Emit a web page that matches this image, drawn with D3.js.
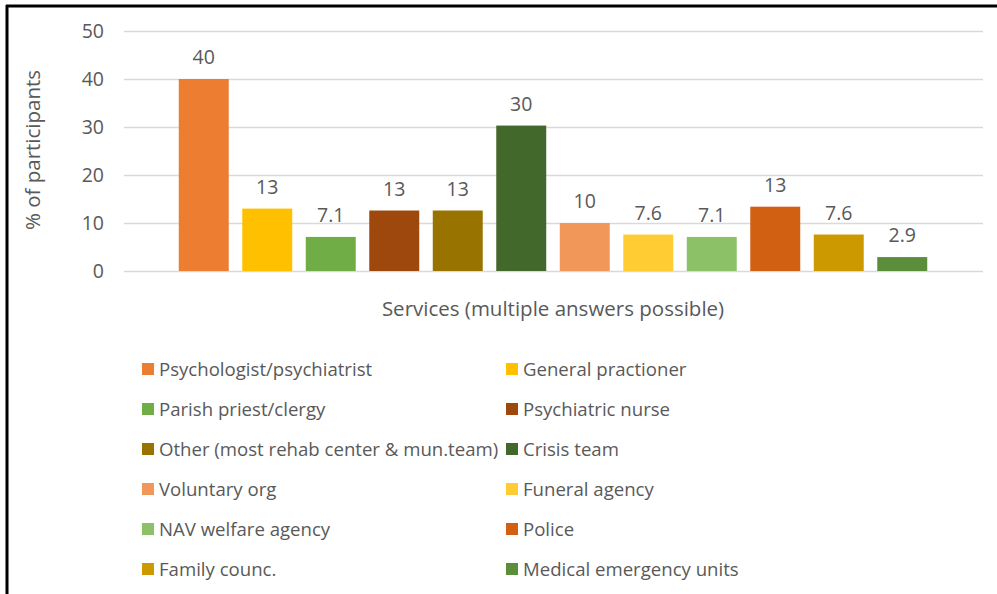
<!DOCTYPE html>
<html><head><meta charset="utf-8">
<script src="https://cdn.jsdelivr.net/npm/d3@7"></script>
<style>
html,body{margin:0;padding:0;background:#fff;}
svg{display:block;}
text{font-family:"Open Sans",sans-serif;fill:#595959;}
</style></head>
<body>
<svg id="chart" width="997" height="594"></svg>
<script>
const categories = ["Psychologist/psychiatrist","General practioner","Parish priest/clergy","Psychiatric nurse","Other (most rehab center & mun.team)","Crisis team","Voluntary org","Funeral agency","NAV welfare agency","Police","Family counc.","Medical emergency units"];
const values = [40, 13.0, 7.1, 12.6, 12.6, 30.3, 10.0, 7.6, 7.1, 13.4, 7.6, 2.9];
const colors = ["#ED7D31","#FFC000","#70AD47","#9E480E","#997300","#43682B","#F1975A","#FFCD33","#8CC168","#D26012","#CC9A00","#5B8E3A"];
const yTicks = [0,10,20,30,40,50];
const yTitle = "% of participants";
const xTitle = "Services (multiple answers possible)";

const svg = d3.select("#chart");
// frame
svg.append("line").attr("x1",6).attr("x2",997).attr("y1",6).attr("y2",6).attr("stroke","#000").attr("stroke-width",3);
svg.append("line").attr("x1",7).attr("x2",7).attr("y1",5).attr("y2",594).attr("stroke","#000").attr("stroke-width",3);

const y = d3.scaleLinear().domain([0,50]).range([271,31]);
const x = d3.scaleBand().domain(categories).range([172,934]).paddingInner(0.213).paddingOuter(0.1065);

const gridG = svg.append("g");
yTicks.forEach(t=>{
  gridG.append("line").attr("x1",124).attr("x2",983).attr("y1",Math.round(y(t))+0.5).attr("y2",Math.round(y(t))+0.5)
    .attr("stroke","#d9d9d9").attr("stroke-width",1.3);
});

const yAxis = d3.axisLeft(y).tickValues(yTicks).tickSize(0).tickPadding(0);
const ya = svg.append("g").attr("transform","translate(104,0)").call(yAxis);
ya.select(".domain").remove();
ya.selectAll("text").style("font-size","19.5px").style("fill","#595959").style("font-family","'Open Sans',sans-serif");

svg.append("g").selectAll("rect").data(categories).join("rect")
  .attr("x",d=>x(d)).attr("width",x.bandwidth())
  .attr("y",(d,i)=>y(values[i])).attr("height",(d,i)=>y(0)-y(values[i]))
  .attr("fill",(d,i)=>colors[i]);

const fmt = d3.format(".2r");
svg.append("g").selectAll("text").data(categories).join("text")
  .attr("x",d=>x(d)+x.bandwidth()/2).attr("y",(d,i)=>y(values[i])-15)
  .attr("text-anchor","middle").style("font-size","19.5px")
  .text((d,i)=>fmt(values[i]));

svg.append("text").attr("x",553).attr("y",316).attr("text-anchor","middle").style("font-size","20.5px").text(xTitle);
svg.append("text").attr("transform","translate(40,150) rotate(-90)").attr("text-anchor","middle").style("font-size","20.5px").text(yTitle);

const leg = svg.append("g");
categories.forEach((c,i)=>{
  const col = i%2, row = Math.floor(i/2);
  const lx = col===0 ? 142 : 506;
  const ly = 369 + row*40;
  leg.append("rect").attr("x",lx).attr("y",ly-6).attr("width",12).attr("height",12).attr("fill",colors[i]);
  leg.append("text").attr("x",lx+17).attr("y",ly+6.5).style("font-size","18.6px").text(c);
});
</script>
</body></html>
